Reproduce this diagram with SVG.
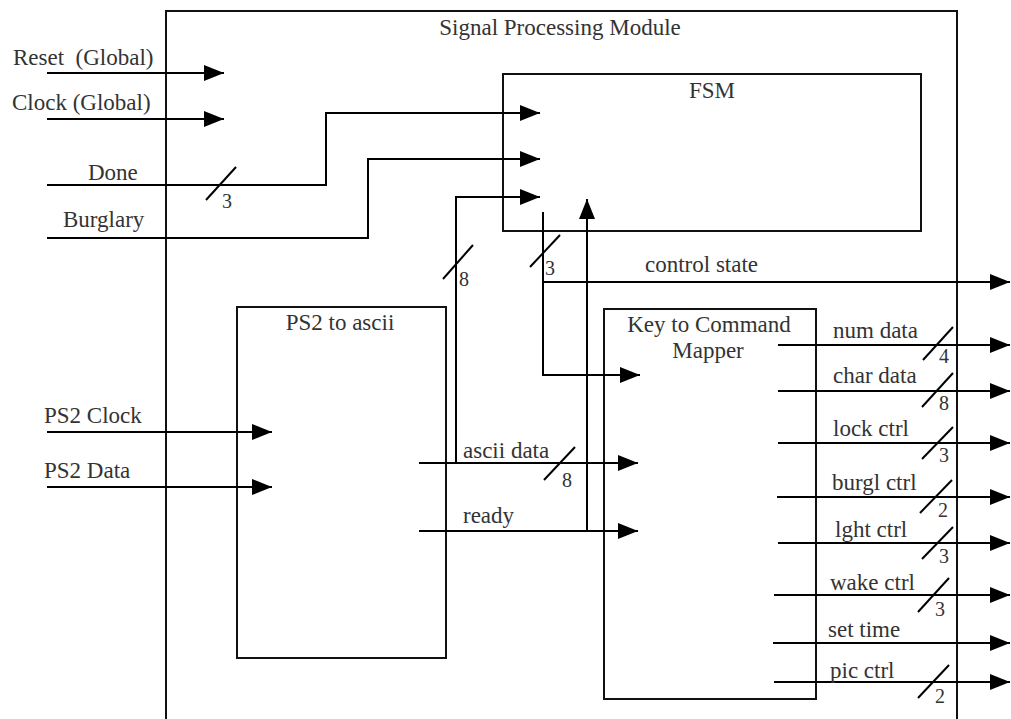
<svg xmlns="http://www.w3.org/2000/svg" width="1011" height="719" viewBox="0 0 1011 719" font-family="Liberation Serif, serif">
<style>
  .box { fill: none; stroke: #111; stroke-width: 2; }
  .a { fill: none; stroke: #000; stroke-width: 2; marker-end: url(#ah); }
  .s { stroke: #000; stroke-width: 2; }
  .t { font-size: 23px; fill: #333; }
  .n { font-size: 20px; fill: #333; }
  .c { text-anchor: middle; }
</style>
<defs>
  <marker id="ah" viewBox="0 0 20 16" refX="20" refY="8" markerWidth="20" markerHeight="16" markerUnits="userSpaceOnUse" orient="auto">
    <path d="M0,0 L20,8 L0,16 z" fill="#000"/>
  </marker>
</defs>
<rect width="1011" height="719" fill="#fff"/>

<g id="module">
  <rect class="box" x="166" y="11" width="791" height="730"/>
  <text class="t c" x="560" y="35" font-family="Liberation Serif">Signal Processing Module</text>
</g>
<g id="fsm">
  <rect class="box" x="503" y="74" width="418" height="157"/>
  <text class="t c" x="712" y="98" font-family="Liberation Serif">FSM</text>
</g>
<g id="ps2ascii">
  <rect class="box" x="237" y="307" width="209" height="351"/>
  <text class="t c" x="340" y="330" font-family="Liberation Serif">PS2 to ascii</text>
</g>
<g id="mapper">
  <rect class="box" x="604" y="309" width="212" height="390"/>
  <text class="t c" x="709" y="332" font-family="Liberation Serif">Key to Command</text>
  <text class="t c" x="708" y="358" font-family="Liberation Serif">Mapper</text>
</g>

<g id="connectors" font-family="Liberation Serif">
  <path class="a" d="M47,73 H224"/>
  <path class="a" d="M47,119 H224"/>
  <path class="a" d="M47,185 H326 V113 H540"/>
  <path class="a" d="M47,238 H368 V159 H540"/>
  <path class="a" d="M456,463 V197 H540"/>
  <path class="a" d="M543,212 V375 H640"/>
  <path class="a" d="M543,282 H1010"/>
  <path class="a" d="M47,432 H272"/>
  <path class="a" d="M47,487 H272"/>
  <path class="a" d="M419,463 H638"/>
  <path class="a" d="M419,531 H638"/>
  <path class="a" d="M587,531 V199"/>
  <path class="a" d="M778,345 H1010"/>
  <path class="a" d="M778,391 H1010"/>
  <path class="a" d="M778,443 H1010"/>
  <path class="a" d="M777,497 H1010"/>
  <path class="a" d="M778,543 H1010"/>
  <path class="a" d="M774,595 H1010"/>
  <path class="a" d="M773,643 H1010"/>
  <path class="a" d="M774,682 H1010"/>

  <line class="s" x1="206" y1="200" x2="236" y2="167"/>
  <line class="s" x1="443" y1="279" x2="473" y2="245"/>
  <line class="s" x1="530" y1="267" x2="560" y2="235"/>
  <line class="s" x1="544" y1="480" x2="575" y2="447"/>
  <line class="s" x1="923" y1="360" x2="953" y2="327"/>
  <line class="s" x1="922" y1="407" x2="953" y2="373"/>
  <line class="s" x1="922" y1="459" x2="953" y2="427"/>
  <line class="s" x1="920" y1="513" x2="952" y2="480"/>
  <line class="s" x1="922" y1="559" x2="953" y2="527"/>
  <line class="s" x1="918" y1="612" x2="949" y2="578"/>
  <line class="s" x1="918" y1="698" x2="949" y2="665"/>

  <text class="t" x="13" y="65" xml:space="preserve">Reset  (Global)</text>
  <text class="t" x="12" y="110">Clock (Global)</text>
  <text class="t" x="88" y="180">Done</text>
  <text class="t" x="63" y="227">Burglary</text>
  <text class="t" x="44" y="423">PS2 Clock</text>
  <text class="t" x="44" y="478">PS2 Data</text>
  <text class="t" x="645" y="272">control state</text>
  <text class="t" x="463" y="458">ascii data</text>
  <text class="t" x="463" y="523">ready</text>
  <text class="t" x="833" y="338">num data</text>
  <text class="t" x="833" y="383">char data</text>
  <text class="t" x="833" y="436">lock ctrl</text>
  <text class="t" x="832" y="490">burgl ctrl</text>
  <text class="t" x="835" y="537">lght ctrl</text>
  <text class="t" x="830" y="590">wake ctrl</text>
  <text class="t" x="828" y="637">set time</text>
  <text class="t" x="830" y="678">pic ctrl</text>

  <text class="n" x="222" y="208">3</text>
  <text class="n" x="459" y="286">8</text>
  <text class="n" x="545" y="275">3</text>
  <text class="n" x="562" y="487">8</text>
  <text class="n" x="939" y="363">4</text>
  <text class="n" x="939" y="410">8</text>
  <text class="n" x="939" y="462">3</text>
  <text class="n" x="938" y="517">2</text>
  <text class="n" x="939" y="563">3</text>
  <text class="n" x="935" y="616">3</text>
  <text class="n" x="935" y="703">2</text>
</g>
</svg>
